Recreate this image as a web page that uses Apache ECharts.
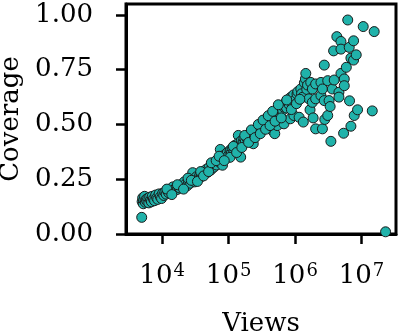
<!DOCTYPE html>
<html lang="en">
<head>
    <meta charset="UTF-8">
    <title>Coverage vs Views</title>
    <style>
        html, body { margin: 0; padding: 0; background: #fff; }
        #chart { width: 400px; height: 331px; }
    </style>
</head>
<body>
    <div id="chart"></div>

    <script src="https://cdn.jsdelivr.net/npm/echarts@6/dist/echarts.min.js"></script>
    <script>
        // views (x, log scale) and coverage (y)
        let views = [
            4930, 5000, 5100, 5200, 5300, 5450, 5600, 5750, 5900, 6100,
            6300, 6500, 6700, 6900, 7100, 7400, 7700, 8000, 8300, 8600,
            9000, 9400, 9800, 10200, 10600, 11000, 11500, 12000, 12600, 13200,
            13800, 14500, 15200, 16000, 16800, 17600, 18500, 19500, 20500, 21500,
            22500, 23800, 25000, 26500, 28800, 29500, 31000, 32000, 33000, 35000,
            37000, 39000, 41000, 43500, 45000, 46000, 48500, 51000, 54000, 57000,
            60000, 62000, 63000, 66000, 70000, 73000, 75000, 77000, 80000, 81000,
            84000, 88000, 92000, 95000, 96000, 100000, 105000, 108000, 110000, 115000,
            120000, 125000, 128000, 140000, 135000, 140000, 145000, 147000, 152000, 155000,
            162000, 165000, 170000, 178000, 186000, 190000, 195000, 205000, 210000, 215000,
            225000, 235000, 240000, 245000, 258000, 265000, 270000, 283000, 290000, 297000,
            310000, 320000, 325000, 340000, 350000, 355000, 372000, 380000, 390000, 400000,
            410000, 430000, 440000, 450000, 454000, 470000, 480000, 495000, 515000, 530000,
            540000, 540000, 565000, 590000, 600000, 620000, 650000, 680000, 680000, 700000,
            710000, 745000, 780000, 800000, 820000, 850000, 860000, 900000, 920000, 950000,
            960000, 1000000, 1070000, 1100000, 1150000, 1220000, 1250000, 1290000, 1330000, 1380000,
            1430000, 1450000, 1500000, 1540000, 1620000, 1680000, 1720000, 1820000, 1820000, 1870000,
            2040000, 2040000, 2040000, 2450000, 2450000, 2580000, 2580000, 2750000, 2750000, 2800000,
            3100000, 3100000, 3250000, 3370000, 3460000, 3630000, 3800000, 3880000, 4250000, 4570000,
            4570000, 4900000, 4900000, 4900000, 5370000, 5500000, 5500000, 5900000, 6200000, 6530000,
            6600000, 6920000, 6920000, 7590000, 7590000, 7760000, 8320000, 8710000, 10600000, 14500000,
            15500000, 23000000,
            105000, 118000, 132000, 158000, 175000, 200000, 220000, 250000, 280000, 300000,
            330000, 360000, 395000, 420000, 460000, 500000, 560000, 620000, 750000, 880000,
            1050000, 1180000, 11800, 14000, 17000, 21000, 24500, 27500, 34000, 38000,
            42000, 50000, 55000, 65000, 72000, 86000
        ]
        let coverage = [
            0.076, 0.148, 0.165, 0.138, 0.155, 0.172, 0.145, 0.158, 0.150, 0.163,
            0.142, 0.168, 0.155, 0.147, 0.172, 0.160, 0.152, 0.178, 0.165, 0.158,
            0.183, 0.170, 0.162, 0.186, 0.176, 0.192, 0.182, 0.198, 0.188, 0.203,
            0.193, 0.215, 0.200, 0.210, 0.203, 0.218, 0.210, 0.225, 0.215, 0.238,
            0.228, 0.220, 0.240, 0.232, 0.280, 0.250, 0.238, 0.250, 0.262, 0.255,
            0.270, 0.262, 0.285, 0.275, 0.288, 0.295, 0.282, 0.305, 0.292, 0.318,
            0.305, 0.322, 0.330, 0.315, 0.340, 0.328, 0.386, 0.350, 0.355, 0.314,
            0.345, 0.362, 0.350, 0.365, 0.372, 0.359, 0.380, 0.386, 0.368, 0.392,
            0.375, 0.405, 0.395, 0.450, 0.388, 0.415, 0.405, 0.398, 0.351, 0.425,
            0.410, 0.420, 0.438, 0.420, 0.445, 0.438, 0.430, 0.455, 0.448, 0.440,
            0.468, 0.412, 0.465, 0.452, 0.478, 0.470, 0.462, 0.490, 0.482, 0.472,
            0.500, 0.495, 0.485, 0.512, 0.505, 0.495, 0.526, 0.488, 0.505, 0.520,
            0.538, 0.518, 0.535, 0.548, 0.473, 0.530, 0.545, 0.458, 0.560, 0.555,
            0.540, 0.495, 0.572, 0.550, 0.568, 0.585, 0.565, 0.579, 0.503, 0.585,
            0.598, 0.575, 0.610, 0.600, 0.590, 0.526, 0.624, 0.600, 0.615, 0.635,
            0.541, 0.612, 0.639, 0.650, 0.533, 0.662, 0.640, 0.624, 0.511, 0.690,
            0.708, 0.733, 0.660, 0.680, 0.617, 0.567, 0.692, 0.662, 0.601, 0.530,
            0.685, 0.617, 0.480, 0.692, 0.632, 0.662, 0.480, 0.609, 0.771, 0.523,
            0.700, 0.541, 0.609, 0.582, 0.423, 0.662, 0.836, 0.703, 0.901, 0.647,
            0.625, 0.733, 0.879, 0.844, 0.460, 0.708, 0.677, 0.761, 0.977, 0.852,
            0.608, 0.492, 0.803, 0.882, 0.794, 0.541, 0.818, 0.567, 0.947, 0.562,
            0.924, 0.010,
            0.350, 0.400, 0.372, 0.395, 0.450, 0.418, 0.475, 0.440, 0.500, 0.458,
            0.520, 0.478, 0.540, 0.495, 0.560, 0.515, 0.590, 0.530, 0.612, 0.568,
            0.595, 0.615, 0.205, 0.180, 0.225, 0.205, 0.255, 0.245, 0.240, 0.285,
            0.265, 0.285, 0.325, 0.335, 0.355, 0.335
        ]
        let xTicks = [1e4, 1e5, 1e6, 1e7]
        let yTicks = [0, 0.25, 0.5, 0.75, 1.0]

        let points = views.map((v, i) => [v, coverage[i]])

        let chart = echarts.init(document.getElementById('chart'), null, { renderer: 'canvas' })
        let font = 'DejaVu Serif'

        let option = {
            animation: false,
            grid: {
                left: 126, top: 4, width: 270, height: 230,
                outerBoundsMode: 'none',
                containLabel: false,
                show: true, borderColor: '#000', borderWidth: 3,
                backgroundColor: 'transparent'
            },
            xAxis: {
                type: 'log',
                logBase: 10,
                min: 2860,
                max: 33000000,
                name: 'Views',
                nameLocation: 'middle',
                nameGap: 77,
                nameTextStyle: { fontFamily: font, fontSize: 26, color: '#000' },
                splitLine: { show: false },
                axisLine: { show: true, lineStyle: { color: '#000', width: 3 } },
                axisTick: { show: true, length: 10, customValues: xTicks, lineStyle: { color: '#000', width: 2.5 } },
                axisLabel: {
                    customValues: xTicks,
                    margin: 28,
                    formatter: v => '10{sup|' + Math.round(Math.log10(v)) + '}',
                    rich: {
                        sup: { fontFamily: font, fontSize: 18, color: '#000', verticalAlign: 'top', padding: [0, 0, 10, 1] }
                    },
                    fontFamily: font, fontSize: 26, color: '#000'
                }
            },
            yAxis: {
                type: 'value',
                min: 0,
                max: 1.05,
                name: 'Coverage',
                nameLocation: 'middle',
                nameGap: 101,
                nameRotate: 90,
                nameTextStyle: { fontFamily: font, fontSize: 26, color: '#000' },
                splitLine: { show: false },
                axisLine: { show: true, lineStyle: { color: '#000', width: 3 } },
                axisTick: { show: true, length: 10, customValues: yTicks, lineStyle: { color: '#000', width: 2.5 } },
                axisLabel: {
                    customValues: yTicks,
                    margin: 33,
                    formatter: v => v.toFixed(2),
                    fontFamily: font, fontSize: 26, color: '#000'
                }
            },
            series: [
                {
                    type: 'scatter',
                    data: points,
                    symbolSize: 10,
                    clip: false,
                    itemStyle: { color: '#20b2aa', borderColor: '#1a1a1a', borderWidth: 1, opacity: 1 }
                }
            ]
        }
        chart.setOption(option)
    </script>
</body>
</html>
